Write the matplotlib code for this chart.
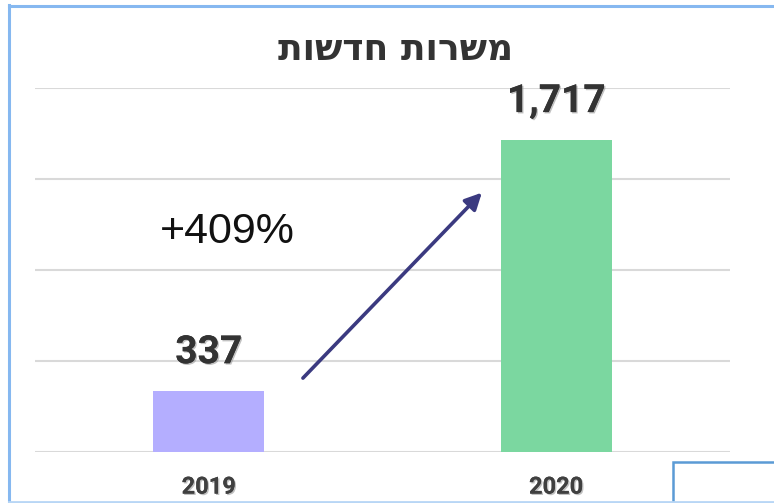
import matplotlib
matplotlib.use("Agg")
import matplotlib.pyplot as plt
import matplotlib.patheffects as pe
from matplotlib.lines import Line2D
from matplotlib.patches import Rectangle

title = "משרות חדשות"
years = ["2019", "2020"]
values = [337, 1717]
value_labels = ["337", "1,717"]
change_label = "+409%"
bar_colors = ["#B4AEFF", "#7BD7A0"]

fig = plt.figure(figsize=(7.74, 5.03), dpi=100)
W, H = 774, 503
ax = fig.add_axes([35 / W, 51 / H, 695 / W, 364 / H])

x = list(range(len(years)))
ax.bar(x, values, width=0.32, color=bar_colors, zorder=3)
ax.set_xlim(-0.5, 1.5)
ax.set_ylim(0, 2000)
ax.set_yticks([0, 500, 1000, 1500, 2000])
ax.yaxis.grid(True, color="#D9D9D9", linewidth=1.5, zorder=0)
ax.set_axisbelow(True)
for s in ax.spines.values():
    s.set_visible(False)
ax.tick_params(axis="y", length=0, labelleft=False)
ax.tick_params(axis="x", length=0, pad=17)
ax.set_xticks(x)
ax.set_xticklabels(years, fontfamily="Roboto", fontweight="bold", fontsize=17, color="#404040")
shadow = [pe.withSimplePatchShadow(offset=(1, -1), shadow_rgbFace="#999999", alpha=0.6), pe.Normal()]
for t in ax.get_xticklabels():
    t.set_path_effects(shadow)

for xi, v, lab in zip(x, values, value_labels):
    ax.annotate(lab, (xi, v), xytext=(0, 14), textcoords="offset points",
                ha="center", va="bottom", fontfamily="Roboto", fontweight="bold",
                fontsize=28, color="#333333", path_effects=shadow)

ax.annotate("", xy=(0.786, 1425), xytext=(0.271, 406),
            arrowprops=dict(arrowstyle="-|>,head_length=1.0,head_width=0.5",
                            color="#3B3A80", lw=2.6, shrinkA=0, shrinkB=0), zorder=4)
ax.text(0.052, 1209, change_label, ha="center", va="center",
        fontfamily="Liberation Sans", fontsize=31, color="#111111")

fig.text(396 / W, 1 - 50 / H, title[::-1], ha="center", va="center",
         fontfamily="DejaVu Sans", fontweight="bold", fontsize=26, color="#333333")

# frame
fc = "#86B8F0"
fig.add_artist(Line2D([9 / W, 9 / W], [0, 1 - 5 / H], color=fc, lw=2.2))
fig.add_artist(Line2D([9 / W, 1], [1 - 5.5 / H, 1 - 5.5 / H], color=fc, lw=2.2))
fig.add_artist(Line2D([9 / W, 1], [1.5 / H, 1.5 / H], color="#B8D6F5", lw=2))
fig.add_artist(Rectangle((673 / W, -0.01), 0.2, (503 - 462) / H + 0.01, fill=False,
                         edgecolor="#5B9BD5", lw=1.8, transform=fig.transFigure))

fig.savefig("out.png", dpi=100)
